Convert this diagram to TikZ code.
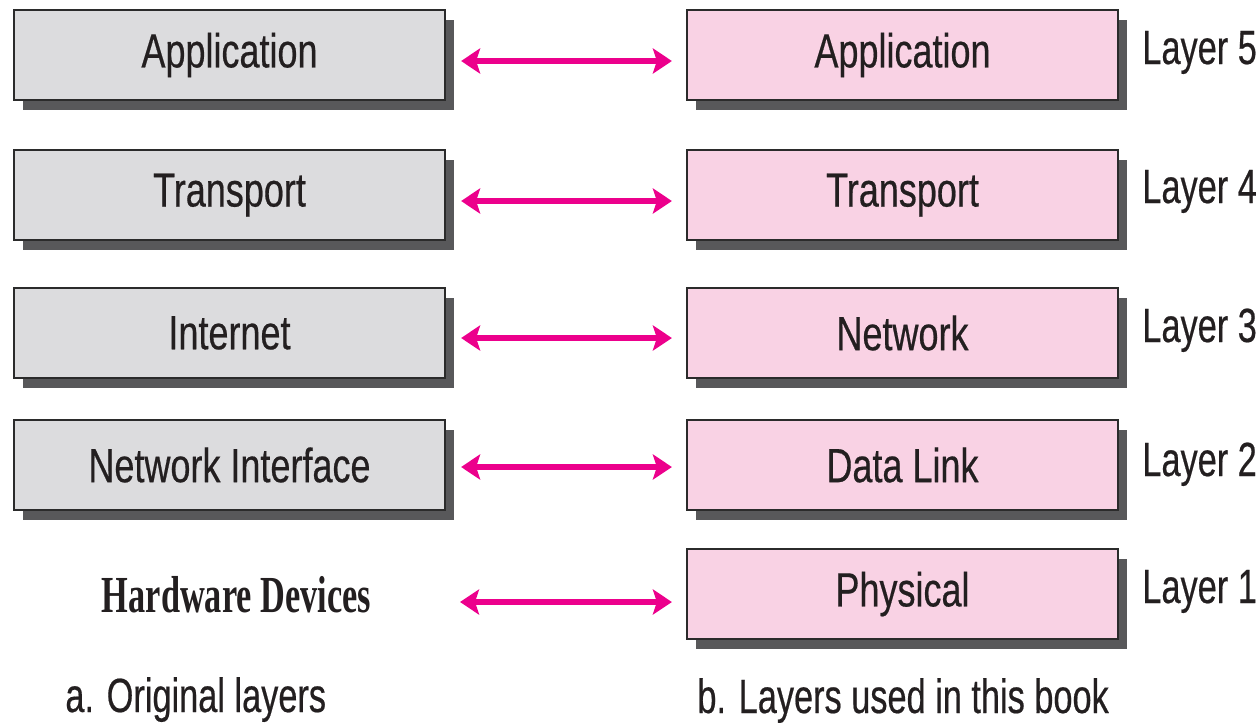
\documentclass[tikz,border=0pt]{standalone}
\usepackage{fontspec}
\setmainfont[FakeStretch=0.75,FakeBold=0.4]{Liberation Sans}
\newfontfamily\narrowfont[FakeStretch=0.715,FakeBold=0.4]{Liberation Sans}
\newfontfamily\hwfont[FakeStretch=0.66]{Liberation Serif}
\usetikzlibrary{arrows.meta,shadows}
\definecolor{boxgray}{HTML}{DCDCDE}
\definecolor{boxpink}{HTML}{F9D2E4}
\definecolor{shadowgray}{HTML}{58585A}
\definecolor{edgecol}{HTML}{2B2B2B}
\definecolor{magentaarrow}{HTML}{EC008C}
\definecolor{inkcol}{HTML}{231F20}
\tikzset{
  layerbox/.style={draw=edgecol, line width=1.1pt, minimum width=215.5pt, minimum height=45pt,
    inner sep=0pt, text=inkcol, font=\fontsize{24}{28}\selectfont,
    drop shadow={shadow xshift=4.5pt, shadow yshift=-5pt, fill=shadowgray, opacity=1}},
  origbox/.style={layerbox, fill=boxgray},
  bookbox/.style={layerbox, fill=boxpink},
  layerlabel/.style={anchor=base west, inner sep=0pt, text=inkcol, font=\narrowfont\fontsize{24}{28}\selectfont},
  caption/.style={anchor=base west, inner sep=0pt, text=inkcol, font=\narrowfont\fontsize{24}{28}\selectfont},
  twoway/.style={draw=magentaarrow, line width=3pt,
    {Stealth[length=9.5pt, width=12.5pt, inset=2pt]}-{Stealth[length=9.5pt, width=12.5pt, inset=2pt]},
    shorten <=7.5pt, shorten >=7pt}
}
\begin{document}
\begin{tikzpicture}[x=0.5pt, y=-0.5pt]
\useasboundingbox (0,0) rectangle (1260,723);
% left column
\node[origbox] (L1) at (229.5,55) {Application};
\node[origbox] (L2) at (229.5,195) {Transport};
\node[origbox] (L3) at (229.5,333) {Internet};
\node[origbox] (L4) at (229.5,465) {Network Interface};
\node[anchor=base, inner sep=0pt, text=inkcol, font=\hwfont\bfseries\fontsize{26}{30}\selectfont] (hw) at (236.5,612) {Hardware Devices};
\coordinate (L5) at (445,594);
% right column
\node[bookbox] (R1) at (902.5,55) {Application};
\node[bookbox] (R2) at (902.5,195) {Transport};
\node[bookbox] (R3) at (902.5,333) {Network};
\node[bookbox] (R4) at (902.5,465) {Data Link};
\node[bookbox] (R5) at (902.5,594) {Physical};
% layer labels
\node[layerlabel] (n5) at (1142,64) {Layer 5};
\node[layerlabel] (n4) at (1142,203) {Layer 4};
\node[layerlabel] (n3) at (1142,342) {Layer 3};
\node[layerlabel] (n2) at (1142,476) {Layer 2};
\node[layerlabel] (n1) at (1142,603) {Layer 1};
% arrows
\draw[twoway] ([yshift=-3pt]L1.east) -- ([yshift=-3pt]R1.west);
\draw[twoway] ([yshift=-3pt]L2.east) -- ([yshift=-3pt]R2.west);
\draw[twoway] ([yshift=-2.5pt]L3.east) -- ([yshift=-2.5pt]R3.west);
\draw[twoway] ([yshift=-1pt]L4.east) -- ([yshift=-1pt]R4.west);
\draw[twoway] ([yshift=-4pt]L5) -- ([yshift=-4pt]R5.west);
% captions
\node[caption] (ca) at (65,712) {a. Original layers};
\node[caption] (cb) at (697,713) {b. Layers used in this book};
\end{tikzpicture}
\end{document}
